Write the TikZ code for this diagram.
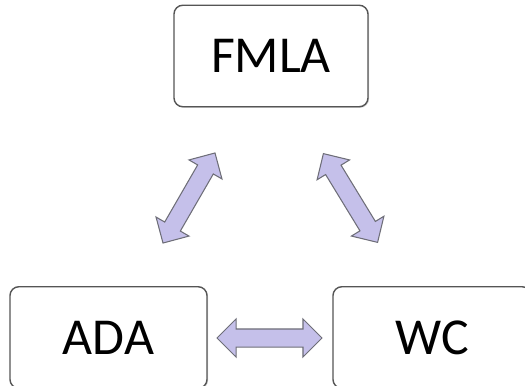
\documentclass[tikz,border=0pt]{standalone}
\usepackage{fontspec}
\setmainfont{Carlito}
\usetikzlibrary{shapes.arrows, shadows}
\definecolor{boxline}{HTML}{555555}
\definecolor{arrowfill}{HTML}{C5C0EA}
\definecolor{arrowline}{HTML}{6E6E78}

\begin{document}
\begin{tikzpicture}[
    topicbox/.style={rectangle, draw=boxline, fill=white, line width=0.8pt,
                     rounded corners=5pt, minimum width=3.9cm, minimum height=2.03cm,
                     align=center, font=\fontsize{29.5}{34}\selectfont,
                     drop shadow={shadow xshift=0.6pt, shadow yshift=-0.6pt, opacity=0.35}},
    linkarrow/.style={double arrow, draw=arrowline, fill=arrowfill, line width=0.6pt,
                      minimum height=#1, minimum width=0.74cm, inner sep=0.17cm,
                      double arrow head extend=0.2cm},
    linkarrow/.default=2.08cm
]
\clip (0,0) rectangle (10.5,7.7);

% Three topic boxes
\node[topicbox, minimum width=3.88cm] (fmla) at (5.42,6.58) {FMLA};
\node[topicbox, minimum width=3.94cm] (ada) at (2.17,0.95) {ADA};
\node[topicbox, minimum width=3.96cm] (wc) at (8.64,0.95) {WC};

% Two-way links between them
\node[linkarrow, rotate=60] (fmla-ada) at (3.78,3.74) {};
\node[linkarrow, rotate=-58.6] (fmla-wc) at (7.01,3.74) {};
\node[linkarrow=2.1cm] (ada-wc) at (5.39,0.94) {};

\end{tikzpicture}
\end{document}
